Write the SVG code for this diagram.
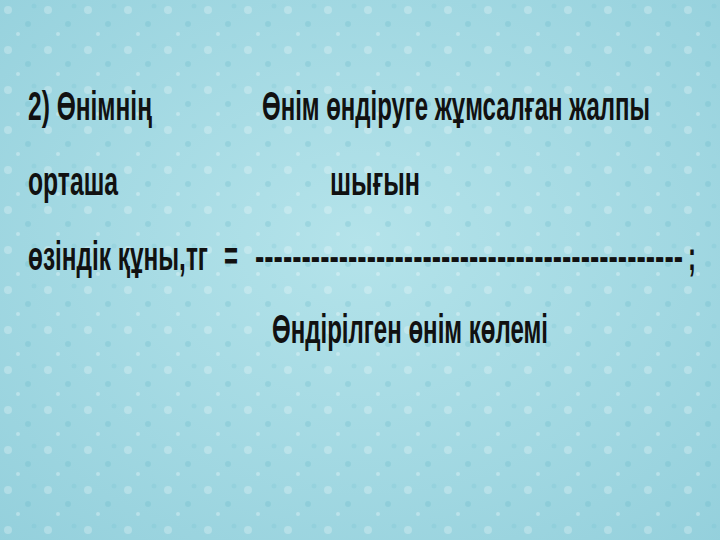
<svg xmlns="http://www.w3.org/2000/svg" width="720" height="540" viewBox="0 0 720 540">
<defs>
<radialGradient id="bg" cx="50%" cy="45%" r="75%">
<stop offset="0" stop-color="#b4e3ea"/>
<stop offset="1" stop-color="#94d0dc"/>
</radialGradient>
<pattern id="drops" width="40" height="40" patternUnits="userSpaceOnUse">
<circle cx="8" cy="10" r="4" fill="#ffffff" opacity="0.25"/>
<circle cx="28" cy="24" r="3" fill="#5fb3c4" opacity="0.25"/>
<circle cx="18" cy="34" r="2" fill="#ffffff" opacity="0.3"/>
<circle cx="34" cy="6" r="2.5" fill="#6bbccc" opacity="0.2"/>
</pattern>
<style>
text{font-family:"Liberation Sans","DejaVu Sans",sans-serif;font-weight:bold;font-size:41px;fill:#111;}
</style>
</defs>
<rect width="720" height="540" fill="url(#bg)"/>
<rect width="720" height="540" fill="url(#drops)"/>
<g id="formula">
<text x="28" y="120" textLength="124" lengthAdjust="spacingAndGlyphs">2) Өнімнің</text>
<text x="262" y="120" textLength="388" lengthAdjust="spacingAndGlyphs">Өнім өндіруге жұмсалған жалпы</text>
<text x="28" y="195" textLength="90" lengthAdjust="spacingAndGlyphs">орташа</text>
<text x="330" y="195" textLength="90" lengthAdjust="spacingAndGlyphs">шығын</text>
<text x="28" y="270" textLength="180" lengthAdjust="spacingAndGlyphs">өзіндік құны,тг</text>
<text x="224" y="270" textLength="14" lengthAdjust="spacingAndGlyphs">=</text>
<text x="255" y="270" textLength="428" lengthAdjust="spacingAndGlyphs">----------------------------------------------</text>
<text x="688" y="270" textLength="8" lengthAdjust="spacingAndGlyphs">;</text>
<text x="272" y="343" textLength="276" lengthAdjust="spacingAndGlyphs">Өндірілген өнім көлемі</text>
</g>
</svg>
